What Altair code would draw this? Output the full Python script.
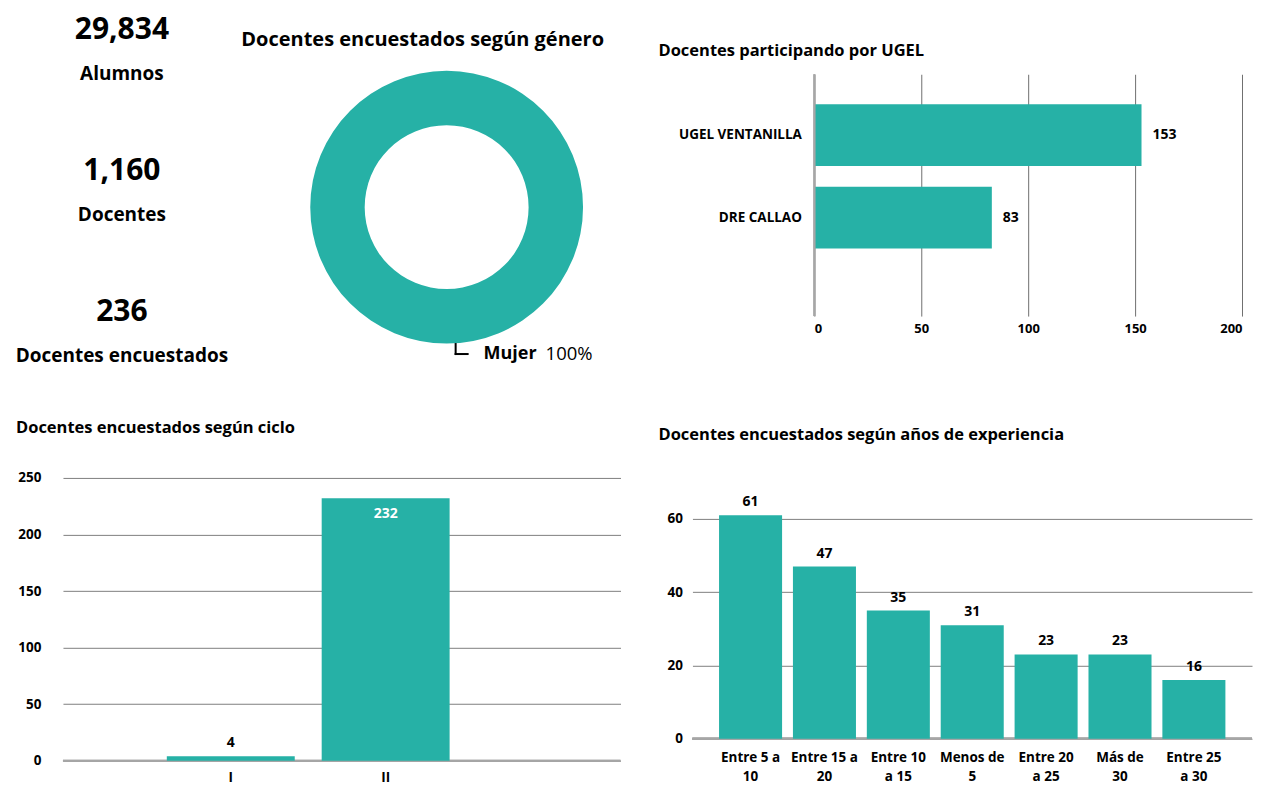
import altair as alt
import pandas as pd

TEAL = "#26B1A6"
FONT = "Open Sans"

# ---------------- data ----------------
kpi_values = ["29,834", "1,160", "236"]
kpi_labels = ["Alumnos", "Docentes", "Docentes encuestados"]

genero = ["Mujer"]
genero_pct = [100]

ugel = ["UGEL VENTANILLA", "DRE CALLAO"]
ugel_vals = [153, 83]

ciclo = ["I", "II"]
ciclo_vals = [4, 232]

exp_cats = ["Entre 5 a|10", "Entre 15 a|20", "Entre 10|a 15", "Menos de|5",
            "Entre 20|a 25", "Más de|30", "Entre 25|a 30"]
exp_vals = [61, 47, 35, 31, 23, 23, 16]

# ---------------- tables ----------------
kpi_df = pd.DataFrame({"idx": [0, 1, 2], "value": kpi_values, "label": kpi_labels})
gen_df = pd.DataFrame({"g": genero, "pct": genero_pct})
ugel_df = pd.DataFrame({"u": ugel, "v": ugel_vals})
ciclo_df = pd.DataFrame({"c": ciclo, "v": ciclo_vals})
exp_df = pd.DataFrame({"cat": exp_cats, "v": exp_vals})

def title(text, size, dx, offset, anchor="start"):
    return alt.TitleParams(text=text, anchor=anchor, frame="group", dx=dx, offset=offset,
                           fontSize=size, fontWeight="bold", color="black", font=FONT,
                           baseline="bottom")

# ---------------- KPI panel ----------------
kbase = alt.Chart(kpi_df).encode(
    y=alt.Y("idx:O", scale=alt.Scale(type="point", padding=0), axis=None),
    x=alt.value(59),
)
kpi_num = kbase.mark_text(fontSize=30, fontWeight="bold", font=FONT, dy=-44,
                          baseline="middle", color="black").encode(text="value:N")
kpi_lab = kbase.mark_text(fontSize=19, fontWeight="bold", font=FONT,
                          baseline="middle", color="black").encode(text="label:N")
panelA = alt.layer(kpi_num, kpi_lab).properties(width=16, height=282)

# ---------------- donut ----------------
dbase = alt.Chart(gen_df).encode(theta=alt.Theta("pct:Q", stack=True))
arc = dbase.mark_arc(outerRadius=136.5, innerRadius=82, color=TEAL)
lab1 = dbase.mark_text(radius=147, align="left", dx=37, fontSize=18, fontWeight="bold",
                       font=FONT, color="black", baseline="middle").encode(text="g:N")
lab2 = dbase.transform_calculate(t="format(datum.pct, '.0f') + '%'").mark_text(
    radius=147, align="left", dx=99, fontSize=18.5, font=FONT, color="black",
    baseline="middle").encode(text="t:N")
lead_v = dbase.mark_rule(color="black", strokeWidth=2).encode(
    x=alt.value(220), y=alt.value(269), y2=alt.value(281))
lead_h = dbase.mark_rule(color="black", strokeWidth=2).encode(
    x=alt.value(219), x2=alt.value(233), y=alt.value(280))
panelB = alt.layer(arc, lead_v, lead_h, lab1, lab2).properties(
    width=422, height=266,
    title=title("Docentes encuestados según género", 20, -24, 1, anchor="middle"))

# ---------------- UGEL ----------------
ubase = alt.Chart(ugel_df).encode(
    y=alt.Y("u:N", sort=ugel, title=None,
            scale=alt.Scale(paddingInner=0.25, paddingOuter=0.592, align=0.307),
            axis=alt.Axis(ticks=False, domain=False, labelPadding=13, grid=False,
                          labelFontSize=13.5, labelFontWeight="bold")),
    x=alt.X("v:Q", title=None, scale=alt.Scale(domain=[0, 200]),
            axis=alt.Axis(values=[0, 50, 100, 150, 200], grid=True, gridColor="#6f6f6f",
                          domain=False, ticks=False, labelPadding=6,
                          labelFontSize=13, labelFontWeight="bold")),
)
ubars = ubase.mark_bar(color=TEAL)
utext = ubase.mark_text(align="left", dx=11, fontSize=14, fontWeight="bold", font=FONT,
                        color="black", baseline="middle").encode(text="v:Q")
uzero = alt.Chart(ugel_df).mark_rule(color="#a6a6a6", strokeWidth=2).encode(x=alt.datum(0))
panelC = alt.layer(ubars, uzero, utext).properties(
    width=428, height=242,
    title=title("Docentes participando por UGEL", 16.5, -156, -2))

# ---------------- ciclo ----------------
cbase = alt.Chart(ciclo_df).encode(
    x=alt.X("c:N", sort=ciclo, title=None,
            scale=alt.Scale(paddingInner=0.174, paddingOuter=0.887, align=0.378),
            axis=alt.Axis(labelAngle=0, ticks=False, domain=False, labelPadding=10,
                          labelFontSize=13.5, labelFontWeight="bold", grid=False)),
    y=alt.Y("v:Q", title=None, scale=alt.Scale(domain=[0, 250], nice=False),
            axis=alt.Axis(values=[0, 50, 100, 150, 200, 250], grid=True,
                          gridColor="#7f7f7f", domain=False, ticks=False, labelPadding=22,
                          labelFontSize=13.5, labelFontWeight="bold")),
)
cbars = cbase.mark_bar(color=TEAL)
czero = alt.Chart(ciclo_df).mark_rule(color="#a6a6a6", strokeWidth=2).encode(y=alt.datum(0))
ctext_out = cbase.transform_filter("datum.v < 50").mark_text(
    dy=-13, fontSize=14, fontWeight="bold", font=FONT, color="black",
    baseline="middle").encode(text="v:Q")
ctext_in = cbase.transform_filter("datum.v >= 50").mark_text(
    dy=16, fontSize=14, fontWeight="bold", font=FONT, color="white",
    baseline="middle").encode(text="v:Q")
panelD = alt.layer(czero, cbars, ctext_out, ctext_in).properties(
    width=558, height=283,
    title=title("Docentes encuestados según ciclo", 16.5, -47, 18))

# ---------------- experiencia ----------------
ebase = alt.Chart(exp_df).encode(
    x=alt.X("cat:N", sort=exp_cats, title=None,
            scale=alt.Scale(paddingInner=0.147, paddingOuter=0.36),
            axis=alt.Axis(labelAngle=0, ticks=False, domain=False, labelPadding=12,
                          labelExpr="split(datum.label, '|')", labelLineHeight=19,
                          labelFontSize=13.5, labelFontWeight="bold", grid=False,
                          labelBaseline="top")),
    y=alt.Y("v:Q", title=None, scale=alt.Scale(domain=[0, 71.2], nice=False),
            axis=alt.Axis(values=[0, 20, 40, 60], grid=True, gridColor="#7f7f7f",
                          domain=False, ticks=False, labelPadding=10,
                          labelFontSize=13.5, labelFontWeight="bold")),
)
ebars = ebase.mark_bar(color=TEAL)
ezero = alt.Chart(exp_df).mark_rule(color="#a6a6a6", strokeWidth=2).encode(y=alt.datum(0))
etext = ebase.mark_text(dy=-13, fontSize=14, fontWeight="bold", font=FONT, color="black",
                        baseline="middle").encode(text="v:Q")
panelE = alt.layer(ezero, ebars, etext).properties(
    width=560, height=261,
    title=title("Docentes encuestados según años de experiencia", 16.5, -34, 18))

# ---------------- layout ----------------
row1 = alt.hconcat(panelA, panelB, panelC, spacing=157, bounds="flush")
row2 = alt.hconcat(panelD, panelE, spacing=72, bounds="flush")

chart = alt.vconcat(row1, row2, spacing=54).properties(
    padding={"left": 7, "top": 7, "right": 0, "bottom": 0}
).configure_view(stroke=None).configure_axis(
    labelFont=FONT, labelColor="black", gridWidth=1
).configure_text(font=FONT)

chart.save("out.html", embed_options={"renderer": "svg", "actions": False})
